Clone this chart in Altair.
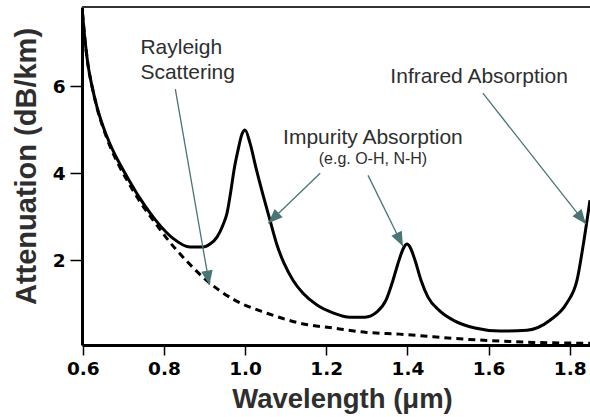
import math
import altair as alt
import pandas as pd

# ---- data ----
wl_total = [0.5992, 0.6054, 0.6128, 0.6226, 0.6350, 0.6498, 0.6670, 0.6867, 0.7089, 0.7410,
            0.7828, 0.8223, 0.8642, 0.8962, 0.9135, 0.9307, 0.9455, 0.9554, 0.9652, 0.9726,
            0.9825, 0.9924, 0.9998, 1.0121, 1.0268, 1.0441, 1.0613, 1.0786, 1.0958, 1.1180,
            1.1427, 1.1772, 1.2166, 1.2585, 1.2955, 1.3250, 1.3472, 1.3645, 1.3793, 1.3916,
            1.3990, 1.4064, 1.4187, 1.4335, 1.4507, 1.4803, 1.5173, 1.5666, 1.6282, 1.6947,
            1.7514, 1.7933, 1.8180, 1.8352, 1.8500]
att_total = [7.68, 7.06, 6.49, 6.00, 5.52, 5.08, 4.67, 4.29, 3.92, 3.42,
             2.88, 2.50, 2.30, 2.30, 2.37, 2.53, 2.81, 3.08, 3.61, 4.07,
             4.53, 4.90, 4.99, 4.69, 4.12, 3.50, 2.92, 2.35, 1.93, 1.54,
             1.24, 0.97, 0.79, 0.69, 0.69, 0.81, 1.08, 1.54, 2.00, 2.30,
             2.37, 2.30, 2.00, 1.54, 1.15, 0.83, 0.60, 0.44, 0.37, 0.39,
             0.62, 1.02, 1.54, 2.46, 3.38]

wl_rayleigh = [0.5992, 0.6054, 0.6128, 0.6226, 0.6350, 0.6498, 0.6670, 0.6867, 0.7089, 0.7420,
               0.7830, 0.8070, 0.8570, 0.8970, 0.9710, 1.0540, 1.1360, 1.2170, 1.3000, 1.3800,
               1.5470, 1.7100, 1.8500]
att_rayleigh = [7.68, 7.06, 6.49, 6.00, 5.50, 5.05, 4.62, 4.22, 3.84, 3.33,
                2.80, 2.50, 1.97, 1.60, 1.10, 0.78, 0.55, 0.44, 0.34, 0.30,
                0.18, 0.11, 0.09]

x_ticks = [0.6, 0.8, 1.0, 1.2, 1.4, 1.6, 1.8]
y_ticks = [2, 4, 6]

left_text = ["Rayleigh", "Scattering", "Infrared Absorption"]
left_x = [0.742, 0.742, 1.358]
left_y = [6.74, 6.16, 6.07]
left_size = [21, 21, 21]

center_text = ["Impurity Absorption", "(e.g. O-H, N-H)"]
center_x = [1.315, 1.315]
center_y = [4.67, 4.21]
center_size = [21, 16]

arrow_x1 = [0.828, 1.185, 1.303, 1.586]
arrow_y1 = [5.93, 4.00, 3.95, 5.84]
arrow_x2 = [0.912, 1.057, 1.389, 1.840]
arrow_y2 = [1.43, 2.85, 2.32, 2.83]

# ---- layout ----
W, H = 508, 338
XDOM = [0.598, 1.850]
YDOM = [0.05, 7.82]
FONT = "Liberation Sans, Arial, Helvetica, sans-serif"
TICKFONT = "DejaVu Sans"
ARROW = "#4b7474"
TEXT = "#2e2e2e"

px_x = W / (XDOM[1] - XDOM[0])
px_y = H / (YDOM[1] - YDOM[0])

total = pd.DataFrame({"wl": wl_total, "att": att_total})
ray = pd.DataFrame({"wl": wl_rayleigh, "att": att_rayleigh})
ltab = pd.DataFrame({"t": left_text, "x": left_x, "y": left_y, "s": left_size})
ctab = pd.DataFrame({"t": center_text, "x": center_x, "y": center_y, "s": center_size})
ang = []
for a, b, c, d in zip(arrow_x1, arrow_y1, arrow_x2, arrow_y2):
    dx = (c - a) * px_x
    dy = -(d - b) * px_y
    ang.append(math.degrees(math.atan2(dx, -dy)) % 360)
arrows = pd.DataFrame({"x1": arrow_x1, "y1": arrow_y1, "x2": arrow_x2, "y2": arrow_y2, "ang": ang})

xs = alt.Scale(domain=XDOM, nice=False, zero=False)
ys = alt.Scale(domain=YDOM, nice=False, zero=False)

x_axis = alt.Axis(values=x_ticks, format=".1f", title="Wavelength (μm)", grid=False,
                  domainWidth=3, domainColor="black", tickColor="black", tickWidth=1.5, tickSize=10,
                  labelFont=TICKFONT, labelFontSize=18.5, labelFontWeight="bold", labelColor="black",
                  labelPadding=4, labelFlush=False,
                  titleFont=FONT, titleFontSize=27.5, titleFontWeight="bold", titleColor=TEXT,
                  titleBaseline="alphabetic", titleY=62, titleX=260, titleAnchor="middle")
y_axis = alt.Axis(values=y_ticks, format="d", title="Attenuation (dB/km)", grid=False,
                  domainWidth=3, domainColor="black", tickColor="black", tickWidth=1.5, tickSize=12,
                  labelFont=TICKFONT, labelFontSize=18.5, labelFontWeight="bold", labelColor="black",
                  labelPadding=5,
                  titleFont=FONT, titleFontSize=29, titleFontWeight="bold", titleColor=TEXT,
                  titleBaseline="alphabetic", titleAngle=270, titleX=-47, titleY=159, titleAnchor="middle")

ray_line = alt.Chart(ray).mark_line(color="black", strokeWidth=3, strokeDash=[7, 5],
                                    interpolate="monotone", clip=True).encode(
    x=alt.X("wl:Q", scale=xs, axis=x_axis),
    y=alt.Y("att:Q", scale=ys, axis=y_axis),
)
tot_line = alt.Chart(total).mark_line(color="black", strokeWidth=3,
                                      interpolate="monotone", clip=True).encode(
    x=alt.X("wl:Q", scale=xs),
    y=alt.Y("att:Q", scale=ys),
)
top_rule = alt.Chart(total).mark_rule(color="#333333", strokeWidth=2).encode(
    x=alt.value(0), x2=alt.value(W), y=alt.value(0)
)
arrow_lines = alt.Chart(arrows).mark_rule(color=ARROW, strokeWidth=1.3).encode(
    x=alt.X("x1:Q", scale=xs), y=alt.Y("y1:Q", scale=ys),
    x2="x2:Q", y2="y2:Q",
)
arrow_heads = alt.Chart(arrows).mark_point(
    shape="M0,0L0.8,2L-0.8,2Z", filled=True, color=ARROW, opacity=1, size=210, strokeWidth=0
).encode(
    x=alt.X("x2:Q", scale=xs), y=alt.Y("y2:Q", scale=ys),
    angle=alt.Angle("ang:Q", scale=None),
)
texts_left = alt.Chart(ltab).mark_text(font=FONT, color=TEXT, baseline="alphabetic", align="left").encode(
    x=alt.X("x:Q", scale=xs), y=alt.Y("y:Q", scale=ys),
    text="t:N",
    size=alt.Size("s:Q", scale=None),
)
texts_center = alt.Chart(ctab).mark_text(font=FONT, color=TEXT, baseline="alphabetic", align="center").encode(
    x=alt.X("x:Q", scale=xs), y=alt.Y("y:Q", scale=ys),
    text="t:N",
    size=alt.Size("s:Q", scale=None),
)

chart = alt.layer(ray_line, tot_line, top_rule, arrow_lines, arrow_heads, texts_left, texts_center).properties(
    width=W, height=H,
    background="white",
    autosize=alt.AutoSizeParams(type="none"),
    padding={"left": 82, "top": 7, "right": 0, "bottom": 72},
).configure_view(stroke=None)

chart.save("out.html", embed_options={"renderer": "svg", "actions": False})
